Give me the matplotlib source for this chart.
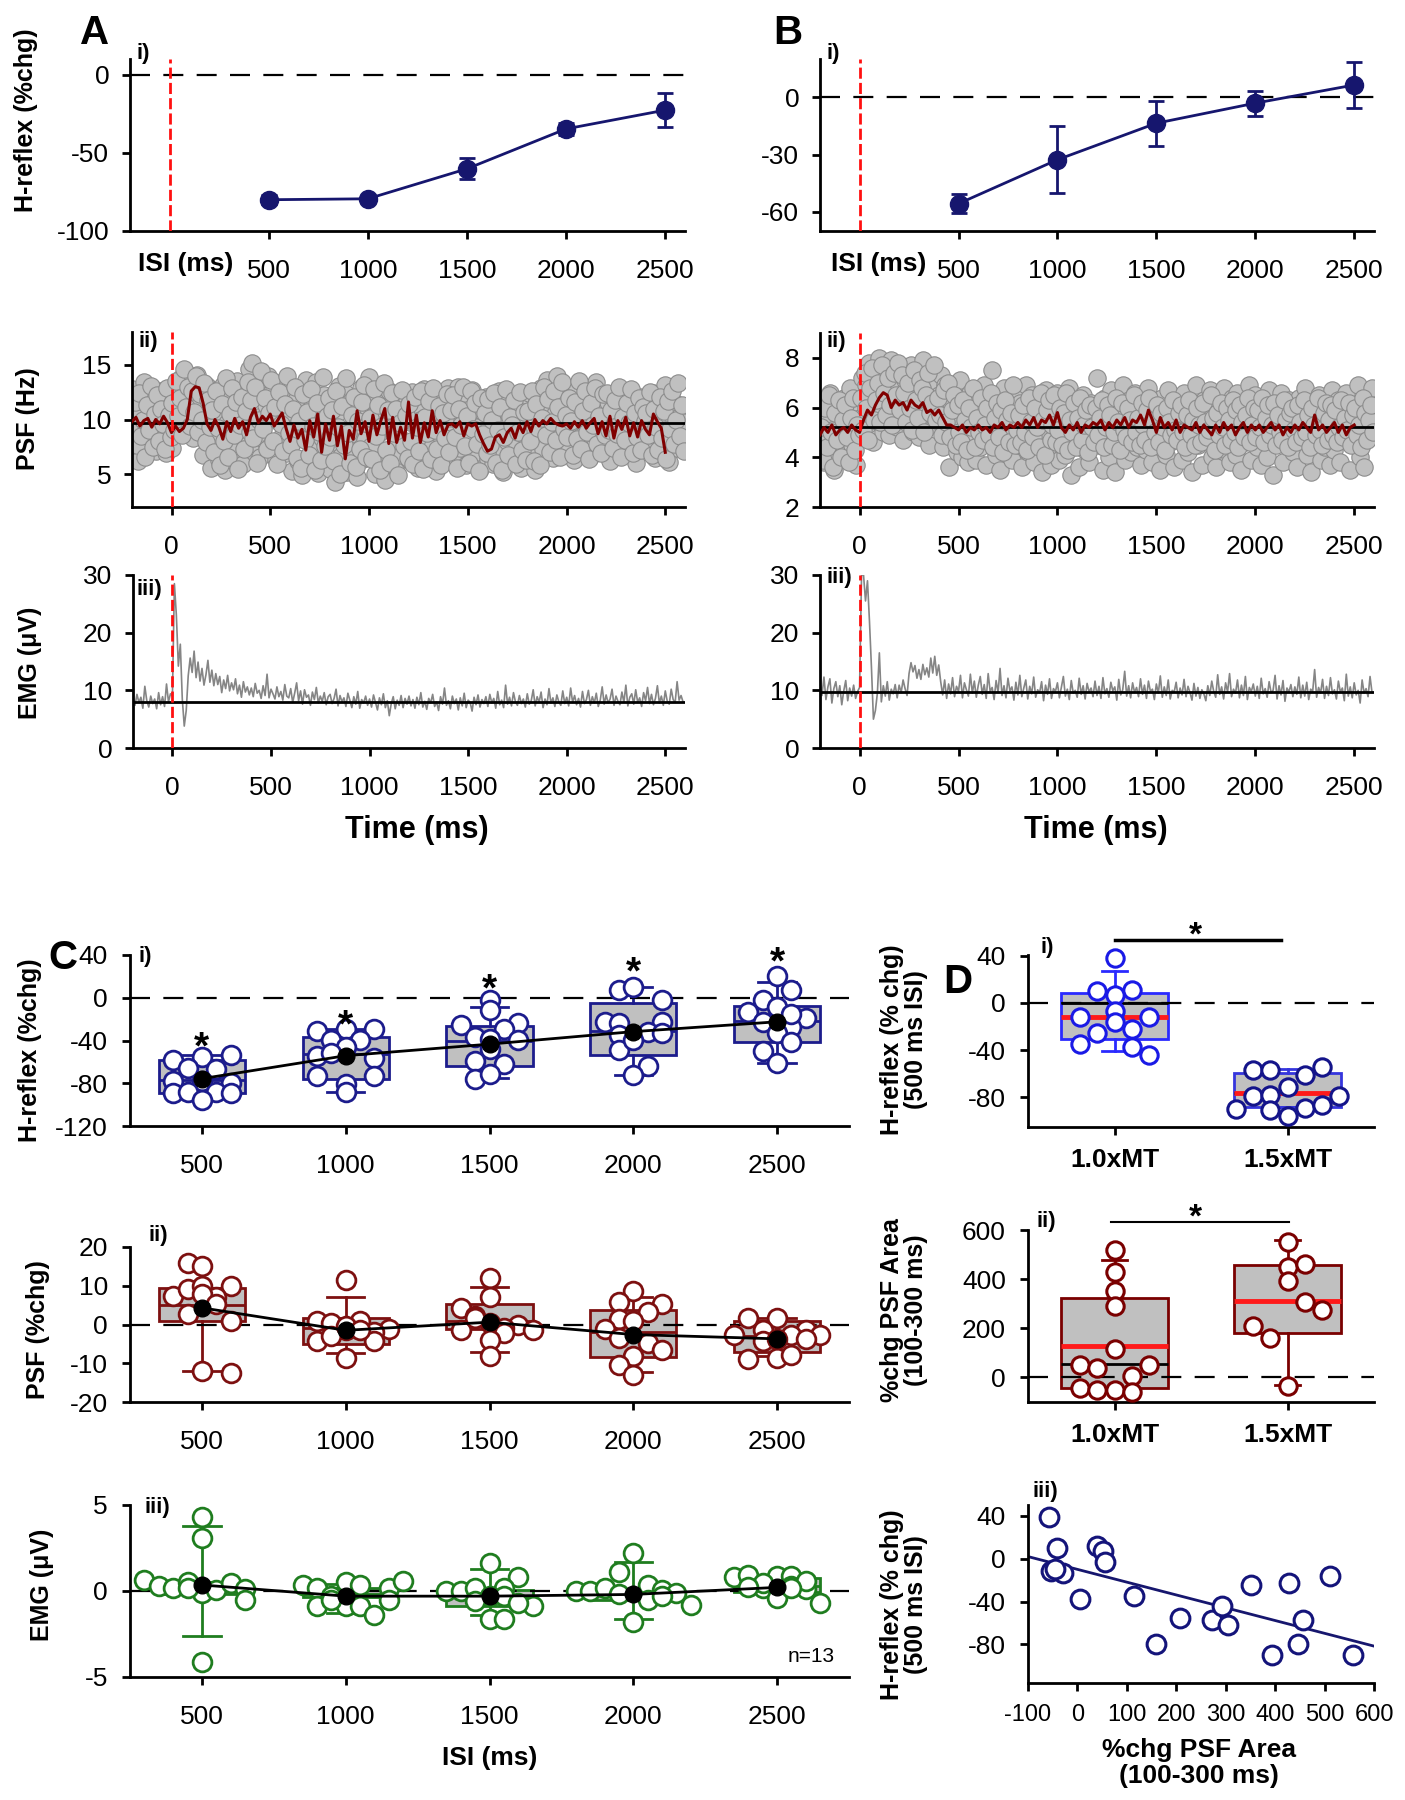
import numpy as np
import matplotlib.pyplot as plt
from matplotlib import font_manager

# ---------------- data ----------------
isi = [500, 1000, 1500, 2000, 2500]

# A i / B i : H-reflex (%chg) vs ISI, mean and error
hr_a_mean = [-80.0, -79.4, -60.2, -34.7, -22.7]
hr_a_err = [3.0, 2.0, 6.8, 4.0, 10.8]
hr_b_mean = [-55.7, -32.7, -13.6, -3.1, 6.4]
hr_b_err = [5.0, 17.4, 11.7, 6.5, 11.9]

# A ii : PSF dots (two interleaved 10 ms grids from -200 ms) and 20 ms trace
psf_a_dots1 = [
    12.8, 8.6, 10.9, 6.2, 11.7, 9.3, 13.4, 7.8, 10.2, 12.1, 8.9, 11.4, 7.1, 9.8, 12.6, 8.2, 10.7, 6.9, 11.9, 9.5,
    7.4, 10.8, 12.9, 8.7, 11.2, 13.8, 9.6, 14.3, 12.4, 10.1, 13.9, 8.3, 11.7, 14.1, 9.2, 12.8, 6.8, 10.4, 13.1, 9.9,
    5.6, 11.9, 8.4, 12.7, 6.3, 10.6, 13.2, 5.4, 9.7, 12.3, 7.2, 11.1, 6.1, 13.5, 8.8, 10.3, 5.9, 12.0, 7.7, 14.6,
    9.4, 15.2, 7.0, 12.5, 10.2, 6.6, 13.7, 8.1, 11.3, 14.0, 7.6, 10.9, 12.8, 6.4, 9.9, 13.3, 8.5, 11.6, 6.9, 10.7,
    12.9, 5.3, 9.1, 11.8, 6.2, 10.4, 4.9, 8.7, 13.6, 5.8, 9.6, 11.2, 7.4, 13.4, 5.1, 10.1, 8.3, 12.2, 6.0, 9.3,
    5.5, 11.4, 7.9, 4.3, 10.6, 13.1, 6.7, 9.0, 12.4, 5.2, 8.6, 11.7, 7.1, 10.2, 4.7, 9.5, 12.9, 6.4, 8.1, 11.0,
    13.9, 7.6, 10.3, 5.0, 12.2, 8.8, 6.1, 11.5, 4.5, 9.7, 12.6, 7.3, 10.8, 5.7, 9.1, 12.0, 6.8, 10.5, 8.0, 11.8,
    6.3, 9.8, 12.5, 7.0, 11.1, 5.6, 10.0, 8.4, 12.8, 6.6, 9.4, 11.9, 7.5, 10.7, 5.3, 9.2, 12.3, 8.1, 11.4, 6.9,
    12.9, 8.6, 10.2, 6.2, 11.6, 13.0, 7.4, 9.9, 12.4, 5.8, 10.6, 8.3, 12.7, 6.7, 11.0, 9.3, 5.5, 10.8, 7.9, 12.1,
    6.4, 10.4, 8.9, 5.9, 11.3, 7.2, 12.6, 9.6, 5.2, 10.9, 8.0, 11.7, 6.6, 9.3, 12.2, 7.6, 10.1, 5.6, 8.7, 11.5,
    9.0, 12.4, 6.9, 10.7, 5.4, 11.8, 8.2, 12.9, 7.3, 10.0, 13.6, 8.8, 11.2, 6.5, 10.5, 14.0, 9.4, 7.1, 12.1, 9.7,
    11.3, 7.8, 12.8, 9.1, 6.3, 13.1, 10.4, 8.4, 11.9, 7.0, 12.5, 9.6, 6.6, 10.9, 8.7, 13.4, 7.5, 11.0, 9.3, 12.2,
    8.1, 11.6, 6.2, 10.3, 12.0, 7.7, 9.8, 11.4, 6.8, 10.6, 12.3, 8.5, 7.2, 11.1, 9.4, 6.0, 10.8, 12.1, 7.9, 9.2,
    11.7, 7.3, 10.0, 8.8, 12.4, 6.5, 9.5, 11.2, 7.6, 10.4, 13.2, 8.2, 6.1, 10.9, 9.7, 11.5, 7.4, 10.2, 8.9, 9.8,
]
psf_a_dots2 = [
    9.1, 11.6, 7.7, 12.4, 8.5, 10.0, 6.6, 11.3, 9.0, 13.1, 7.5, 10.5, 12.2, 8.0, 11.0, 9.6, 7.3, 12.9, 10.4, 8.4,
    11.5, 9.0, 13.5, 10.3, 12.0, 8.6, 14.6, 11.1, 13.0, 9.4, 12.6, 10.7, 14.0, 8.9, 12.3, 10.0, 13.3, 7.9, 11.8, 9.3,
    10.9, 7.0, 12.6, 9.2, 5.8, 11.4, 8.0, 13.8, 6.6, 10.5, 12.9, 8.6, 11.6, 5.5, 9.5, 12.1, 7.3, 10.8, 13.4, 8.9,
    11.8, 8.3, 13.0, 6.0, 10.0, 14.4, 9.1, 12.0, 7.3, 10.6, 13.6, 8.0, 11.1, 5.9, 12.5, 9.6, 7.1, 11.4, 14.0, 8.8,
    7.7, 11.0, 13.0, 6.5, 9.9, 5.6, 12.3, 8.1, 10.7, 6.8, 12.8, 9.4, 5.4, 11.5, 8.9, 6.3, 13.9, 7.6, 10.3, 12.0,
    8.4, 10.9, 6.2, 12.6, 9.3, 5.0, 11.2, 7.7, 13.8, 8.8, 6.0, 10.4, 12.1, 5.7, 9.9, 7.3, 11.6, 13.2, 6.6, 9.6,
    10.1, 6.4, 12.8, 8.5, 11.3, 5.4, 9.4, 13.3, 7.2, 10.9, 6.0, 12.4, 8.8, 11.0, 4.9, 9.7, 12.7, 7.6, 10.4, 6.5,
    11.4, 8.0, 5.9, 12.1, 9.3, 7.1, 12.6, 5.5, 10.2, 8.8, 11.7, 6.4, 12.9, 9.0, 7.3, 11.2, 5.8, 10.6, 8.3, 12.3,
    7.0, 10.9, 12.2, 8.4, 5.6, 11.0, 9.5, 13.0, 7.6, 10.3, 6.0, 12.6, 9.1, 11.5, 7.8, 5.3, 12.0, 8.7, 10.6, 6.9,
    11.9, 7.7, 10.0, 12.4, 6.0, 9.0, 11.1, 5.4, 8.4, 12.8, 6.8, 10.2, 9.5, 11.8, 5.9, 8.9, 12.5, 7.2, 10.7, 6.3,
    10.8, 8.0, 12.6, 6.2, 11.4, 9.2, 5.8, 10.1, 13.0, 8.6, 11.9, 7.0, 9.8, 12.6, 8.1, 11.1, 6.6, 13.4, 9.1, 10.4,
    8.4, 12.0, 9.9, 6.8, 11.6, 8.2, 13.5, 7.3, 10.8, 12.6, 8.9, 6.4, 11.5, 9.5, 12.9, 7.8, 10.3, 6.9, 12.3, 8.6,
    12.4, 9.0, 10.9, 7.4, 11.8, 8.7, 13.0, 6.6, 10.2, 8.1, 11.5, 9.7, 12.8, 6.9, 10.6, 8.4, 12.0, 7.2, 11.1, 9.9,
    10.6, 8.6, 12.5, 6.8, 11.0, 9.3, 7.2, 12.1, 8.3, 10.8, 6.4, 11.7, 9.1, 12.6, 7.8, 10.0, 13.3, 8.5, 11.3, 7.1,
]
psf_a_trace = [
    9.8, 10.2, 9.4, 9.9, 10.1, 9.3, 10.0, 9.6, 10.3, 9.7,
    8.8, 9.4, 8.9, 9.2, 10.0, 12.6, 13.0, 12.9, 11.5, 9.6,
    9.0, 10.0, 9.3, 8.2, 9.8, 8.9, 10.1, 9.2, 9.8, 8.6,
    10.2, 11.0, 9.7, 10.3, 9.9, 10.5, 9.4, 10.0, 10.6, 9.2,
    8.0, 9.5, 8.3, 9.1, 7.2, 9.9, 8.4, 10.5, 7.0, 9.6,
    8.1, 10.3, 7.6, 9.4, 6.4, 9.0, 8.2, 10.8, 8.7, 9.8,
    8.0, 10.4, 8.6, 9.9, 11.0, 7.8, 10.2, 7.9, 9.3, 8.1,
    11.6, 8.3, 10.4, 7.9, 9.7, 8.4, 10.8, 8.8, 9.9, 8.6,
    9.5, 9.6, 9.3, 9.8, 8.5, 9.6, 9.4, 9.6, 8.6, 7.8,
    7.1, 7.3, 8.4, 8.6, 7.9, 8.8, 9.2, 8.3, 9.5, 8.8,
    9.8, 8.9, 10.0, 9.4, 9.9, 9.6, 10.1, 9.7, 9.5, 9.4,
    9.6, 9.2, 9.8, 9.3, 9.9, 9.2, 9.7, 10.1, 8.7, 9.8,
    8.5, 10.3, 8.3, 9.9, 9.1, 10.2, 8.5, 9.7, 8.4, 9.9,
    9.1, 8.6, 10.5, 9.8, 9.2, 7.0,
]
psf_a_base = 9.7

# A iii : EMG (10 ms grid from -200 ms)
emg_a = [
    8.6, 7.4, 9.3, 7.9, 8.8, 6.9, 10.7, 8.2, 7.1, 9.0, 7.7, 8.5, 6.8, 9.6, 7.5, 8.9, 7.2, 11.1, 8.0, 9.4,
    9.0, 28.5, 23.0, 14.2, 18.0, 8.5, 3.8, 6.5, 12.5, 15.6, 13.1, 16.8, 12.2, 14.9, 11.6, 13.8, 10.9, 12.7, 15.2, 11.4,
    13.5, 10.8, 12.9, 11.0, 12.4, 9.6, 11.8, 10.3, 12.6, 9.9, 11.3, 10.1, 12.0, 9.4, 10.9, 8.8, 11.5, 9.7, 10.6, 9.2,
    10.4, 8.9, 11.2, 9.5, 10.0, 8.6, 10.8, 9.1, 12.8, 8.7, 10.2, 9.4, 8.5, 10.6, 8.9, 9.8, 8.3, 11.0, 9.0, 8.7,
    10.3, 7.9, 9.5, 11.3, 8.2, 9.9, 7.6, 10.1, 8.8, 9.2, 7.4, 9.7, 8.4, 10.5, 7.8, 9.0, 8.1, 9.6, 7.5, 8.9,
    9.3, 7.7, 8.6, 10.2, 7.3, 9.1, 8.0, 8.7, 7.2, 9.5, 8.3, 7.0, 8.9, 7.6, 9.8, 6.9, 8.4, 7.8, 9.0, 7.4,
    8.5, 7.1, 9.2, 7.9, 6.6, 8.7, 7.5, 9.4, 7.0, 8.2, 5.6, 7.7, 8.9, 6.8, 8.3, 7.4, 9.1, 7.0, 8.6, 7.6,
    9.0, 7.3, 8.4, 6.9, 8.8, 7.5, 9.6, 7.1, 8.1, 6.7, 8.6, 7.8, 9.3, 7.2, 8.0, 6.5, 8.9, 7.6, 10.4, 7.4,
    8.2, 6.8, 9.0, 7.7, 8.5, 6.6, 8.7, 7.3, 9.5, 7.0, 8.3, 7.9, 6.4, 8.8, 7.5, 9.2, 7.1, 8.4, 7.7, 8.9,
    7.2, 9.3, 7.8, 8.6, 6.9, 9.8, 7.5, 8.3, 7.0, 10.9, 7.6, 8.8, 7.3, 9.6, 8.0, 7.4, 9.1, 7.7, 8.5, 7.1,
    9.4, 7.6, 8.2, 10.1, 7.3, 8.9, 7.9, 9.7, 7.0, 8.5, 7.5, 10.3, 7.8, 8.7, 7.2, 9.2, 8.0, 7.4, 9.9, 7.7,
    8.8, 7.3, 10.4, 7.9, 9.1, 7.5, 8.6, 7.1, 9.8, 7.7, 8.4, 10.0, 7.4, 8.9, 7.8, 9.5, 7.2, 8.3, 10.6, 7.6,
    9.2, 7.8, 8.5, 10.2, 7.4, 9.0, 8.1, 7.5, 9.7, 7.9, 10.9, 7.3, 8.8, 9.4, 7.6, 10.1, 7.9, 8.7, 7.2, 9.6,
    8.2, 10.5, 7.7, 9.3, 7.5, 8.6, 10.8, 7.8, 9.0, 7.4, 9.9, 8.1, 7.6, 10.2, 8.4, 7.9, 11.5, 8.3, 9.1, 8.0,
]
emg_a_base = 8.0

# B ii : PSF dots (two interleaved 10 ms grids) and trace
psf_b_dots1 = [
    4.6, 6.3, 3.8, 5.7, 4.2, 6.6, 5.1, 3.5, 6.0, 4.9, 5.8, 4.1, 6.4, 3.9, 5.4, 6.8, 4.5, 5.9, 3.7, 6.2,
    5.6, 7.2, 4.8, 6.9, 5.3, 7.8, 6.1, 4.6, 7.5, 5.9, 8.0, 6.4, 5.0, 7.3, 6.7, 4.9, 7.9, 5.8, 6.9, 5.2,
    7.6, 6.2, 4.7, 7.1, 5.5, 6.8, 7.7, 5.0, 6.4, 7.4, 4.8, 6.0, 7.9, 5.7, 6.6, 4.5, 7.2, 6.1, 5.3, 7.0,
    6.5, 7.3, 4.4, 6.9, 5.8, 3.6, 6.2, 5.1, 6.8, 4.2, 5.6, 7.1, 4.0, 6.4, 5.3, 3.8, 6.6, 4.7, 5.9, 3.9,
    6.3, 4.4, 5.5, 6.9, 3.7, 5.8, 4.6, 7.5, 5.2, 4.1, 6.5, 3.5, 5.7, 6.8, 4.3, 5.0, 6.1, 3.9, 5.4, 6.7,
    4.5, 6.2, 3.6, 5.6, 6.9, 4.2, 5.3, 6.5, 3.8, 5.9, 4.7, 6.4, 3.4, 5.1, 6.7, 4.4, 5.8, 3.7, 6.0, 4.9,
    6.6, 3.9, 5.5, 6.3, 4.1, 5.0, 6.8, 3.3, 5.7, 4.6, 6.1, 3.6, 5.2, 6.5, 4.3, 5.9, 3.8, 6.2, 4.8, 5.4,
    7.2, 4.5, 5.8, 3.5, 6.4, 5.1, 4.0, 6.7, 5.5, 3.4, 6.0, 4.7, 5.6, 6.9, 3.9, 5.3, 6.3, 4.2, 5.7, 6.6,
    4.4, 5.9, 3.7, 6.5, 5.0, 4.3, 6.8, 5.4, 3.8, 6.1, 4.9, 5.6, 3.5, 6.4, 5.2, 4.1, 6.7, 4.6, 5.8, 3.6,
    6.2, 4.8, 5.5, 3.9, 6.6, 5.1, 4.2, 6.0, 3.4, 5.7, 6.9, 4.5, 5.3, 3.7, 6.3, 4.9, 5.9, 6.7, 4.0, 5.2,
    3.6, 6.1, 4.7, 5.6, 6.8, 4.3, 5.0, 3.8, 6.4, 5.3, 4.1, 6.6, 5.8, 3.5, 6.0, 4.6, 5.4, 6.9, 3.9, 5.1,
    6.5, 4.4, 5.7, 3.7, 6.2, 5.0, 4.0, 6.7, 5.5, 3.3, 6.1, 4.8, 5.9, 6.6, 3.8, 5.2, 4.5, 6.3, 5.6, 4.2,
    5.8, 3.6, 6.4, 4.9, 5.3, 6.8, 4.1, 5.6, 3.4, 6.2, 4.6, 5.9, 6.5, 3.9, 5.1, 4.4, 6.0, 5.4, 3.7, 6.7,
    4.3, 5.7, 6.3, 3.8, 5.2, 4.7, 6.6, 5.0, 3.5, 6.1, 4.5, 5.8, 6.9, 4.0, 5.4, 3.6, 6.2, 4.8, 5.5, 6.8,
]
psf_b_dots2 = [
    5.2, 3.9, 6.0, 4.4, 6.5, 5.0, 3.6, 5.8, 4.7, 6.3, 4.0, 5.5, 6.1, 4.8, 3.8, 5.6, 6.4, 4.3, 5.3, 4.9,
    6.4, 5.1, 7.4, 6.0, 4.7, 6.8, 7.6, 5.5, 6.3, 7.0, 5.4, 7.7, 6.6, 5.7, 7.2, 6.1, 5.3, 7.4, 6.5, 7.8,
    5.9, 7.3, 6.6, 5.4, 7.0, 6.0, 5.1, 7.5, 6.3, 5.6, 7.1, 6.8, 5.0, 6.5, 7.4, 5.8, 6.2, 7.7, 5.5, 6.4,
    5.7, 4.9, 6.7, 5.4, 7.0, 4.8, 5.9, 6.5, 4.5, 6.1, 5.0, 4.6, 6.3, 5.5, 4.3, 6.0, 5.2, 6.8, 4.4, 5.6,
    5.0, 6.4, 4.7, 5.3, 6.0, 4.9, 6.6, 4.4, 5.6, 6.2, 4.8, 5.9, 4.2, 6.3, 5.5, 4.6, 5.8, 6.9, 4.5, 5.1,
    5.7, 4.6, 6.1, 5.0, 4.3, 6.4, 5.4, 4.8, 6.0, 5.2, 4.4, 6.6, 5.5, 4.1, 5.9, 6.3, 4.7, 5.3, 6.5, 4.6,
    5.1, 6.0, 4.5, 5.8, 6.6, 4.3, 5.5, 5.0, 6.2, 4.4, 5.6, 6.4, 4.7, 5.3, 5.9, 4.2, 6.1, 5.2, 4.6, 6.0,
    4.9, 5.6, 6.3, 4.4, 5.2, 6.1, 5.7, 4.5, 5.0, 6.4, 5.4, 4.3, 6.2, 5.1, 4.8, 6.0, 5.5, 4.6, 6.5, 5.0,
    5.6, 4.5, 6.2, 5.3, 4.7, 5.9, 6.4, 4.4, 5.5, 5.0, 6.1, 4.6, 5.8, 5.2, 4.3, 6.0, 5.4, 4.9, 6.3, 5.1,
    4.7, 5.8, 6.1, 5.0, 4.4, 5.7, 6.3, 4.9, 5.5, 4.5, 6.0, 5.3, 4.6, 6.2, 5.4, 4.8, 5.1, 6.5, 5.6, 4.3,
    5.8, 4.9, 6.2, 5.2, 4.5, 6.0, 5.5, 4.7, 6.3, 5.0, 5.9, 4.4, 6.1, 5.4, 4.8, 5.7, 6.4, 4.6, 5.3, 6.0,
    4.8, 5.9, 5.2, 6.4, 4.6, 5.6, 6.1, 4.9, 5.3, 6.2, 4.5, 5.7, 5.0, 4.7, 6.3, 5.5, 4.4, 5.8, 6.0, 5.1,
    4.6, 6.1, 5.4, 4.8, 6.3, 5.0, 5.7, 4.4, 6.0, 5.3, 4.9, 6.4, 5.1, 4.5, 5.8, 6.2, 4.7, 5.5, 6.1, 4.9,
    5.9, 4.6, 5.2, 6.3, 4.8, 5.6, 5.1, 6.2, 4.5, 5.7, 6.0, 4.9, 5.3, 4.4, 6.4, 5.8, 4.7, 5.5, 6.1, 5.0,
]
psf_b_trace = [
    4.9, 5.2, 5.0, 5.3, 4.9, 5.1, 5.2, 5.0, 5.3, 5.1,
    5.0, 5.5, 5.9, 5.7, 6.1, 6.4, 6.6, 6.5, 6.0, 6.3,
    6.1, 6.2, 5.9, 6.3, 6.1, 6.0, 6.2, 5.8, 5.9, 5.7,
    5.9, 5.6, 5.3, 5.3, 5.2, 5.1, 5.3, 5.0, 5.2, 5.1,
    5.3, 5.1, 5.2, 5.0, 5.3, 5.2, 5.4, 5.1, 5.3, 5.2,
    5.4, 5.2, 5.5, 5.3, 5.6, 5.2, 5.5, 5.4, 5.7, 5.3,
    5.8, 5.2, 5.0, 5.3, 5.1, 5.4, 5.0, 5.3, 5.2, 5.4,
    5.3, 5.5, 5.1, 5.4, 5.2, 5.5, 5.3, 5.6, 5.2, 5.5,
    5.4, 5.7, 5.3, 5.9, 5.5, 5.0, 5.6, 5.2, 5.4, 5.1,
    5.5, 5.0, 5.3, 5.2, 5.1, 5.4, 5.0, 5.3, 5.1, 4.9,
    5.3, 5.0, 5.4, 5.1, 5.3, 4.9, 5.2, 5.4, 5.0, 5.3,
    5.1, 5.3, 5.0, 5.2, 5.4, 5.1, 5.3, 4.9, 5.2, 5.0,
    5.3, 5.1, 5.4, 5.2, 5.0, 5.7, 5.1, 5.3, 5.0, 5.2,
    5.4, 5.0, 5.3, 4.9, 5.2, 5.3,
]
psf_b_base = 5.2

# B iii : EMG (10 ms grid from -200 ms)
emg_b = [
    11.2, 9.1, 12.3, 8.4, 10.6, 12.0, 7.8, 10.3, 11.5, 8.9, 10.8, 7.5, 9.9, 11.7, 8.2, 10.4, 9.0, 10.9, 8.6, 9.8,
    10.5, 30.0, 30.0, 25.5, 29.0, 22.0, 14.0, 5.0, 6.5, 9.5, 16.5, 8.0, 10.8, 9.0, 11.5, 8.3, 10.2, 9.4, 11.0, 8.7,
    10.9, 9.6, 11.8, 10.3, 9.1, 12.9, 14.8, 13.2, 14.3, 12.1, 13.6, 11.9, 14.5, 12.7, 13.9, 12.3, 15.6, 13.0, 15.9, 12.6,
    14.4, 11.5, 9.2, 11.8, 8.6, 11.1, 9.4, 12.2, 8.9, 10.7, 9.8, 12.6, 8.7, 11.3, 10.1, 9.0, 12.8, 9.5, 11.6, 8.8,
    10.9, 12.4, 9.3, 11.0, 8.6, 12.9, 9.8, 10.5, 8.4, 11.7, 9.6, 13.8, 9.1, 10.8, 8.7, 12.1, 9.9, 10.6, 8.3, 11.4,
    9.2, 12.6, 8.9, 10.4, 11.8, 8.5, 10.7, 9.4, 12.3, 8.8, 10.1, 9.6, 11.5, 8.2, 10.9, 9.3, 12.0, 8.6, 10.3, 9.8,
    11.3, 8.7, 10.6, 12.4, 9.0, 10.2, 8.4, 11.7, 9.5, 10.0, 8.8, 12.1, 9.3, 10.8, 8.5, 11.2, 9.7, 10.4, 8.9, 11.6,
    9.1, 10.7, 8.6, 12.2, 9.4, 10.3, 8.8, 11.4, 9.9, 10.6, 8.3, 11.9, 9.2, 10.1, 13.3, 9.0, 10.8, 8.7, 11.3, 9.6,
    10.5, 8.9, 12.0, 9.3, 10.9, 8.6, 11.6, 9.8, 10.2, 8.4, 11.1, 9.5, 12.5, 8.8, 10.6, 9.1, 11.8, 8.5, 10.0, 9.7,
    11.4, 8.7, 10.4, 9.2, 11.9, 8.9, 10.7, 9.6, 8.3, 11.2, 9.0, 10.5, 8.6, 10.1, 9.4, 8.2, 10.8, 9.1, 11.6, 9.8,
    8.8, 12.7, 9.3, 10.6, 8.5, 11.3, 9.7, 12.9, 8.9, 10.2, 9.5, 11.8, 8.7, 10.9, 9.1, 12.4, 8.4, 10.5, 9.8, 11.1,
    9.0, 10.7, 8.6, 12.1, 9.4, 10.3, 8.8, 11.5, 9.6, 10.0, 12.6, 8.5, 10.8, 9.2, 11.7, 8.1, 10.4, 9.7, 11.0, 8.9,
    10.6, 9.3, 12.3, 8.7, 10.9, 9.0, 11.4, 8.4, 10.2, 9.8, 13.6, 8.8, 10.5, 9.5, 11.9, 8.6, 10.7, 9.1, 12.2, 9.4,
    10.1, 8.5, 11.6, 9.7, 10.4, 8.2, 12.8, 9.0, 10.6, 8.7, 11.3, 9.2, 10.0, 7.8, 11.8, 9.5, 10.3, 8.9, 12.4, 9.6,
]
emg_b_base = 9.7

# C : group data, one list per ISI (13 subjects)
hr_c_pts = [
    [-57.8, -55.4, -53.8, -65.5, -67.0, -77.8, -77.8, -79.4, -89.0, -88.0, -88.0, -89.0, -95.4],
    [-30.8, -29.5, -29.5, -39.4, -39.4, -46.0, -54.8, -56.3, -52.0, -73.2, -73.2, -81.0, -88.6],
    [-2.5, -11.7, -25.5, -24.0, -29.5, -36.3, -38.8, -39.4, -48.0, -59.4, -61.8, -75.7, -71.7],
    [6.8, 9.8, -1.8, -22.5, -23.4, -22.5, -31.7, -34.8, -33.2, -48.6, -63.4, -72.6, -39.4],
    [20.6, 6.8, -2.5, -13.2, -8.6, -18.5, -22.5, -27.0, -33.2, -41.8, -50.0, -61.0, -15.0],
]
hr_c_mean = [-75.7, -54.2, -43.4, -31.7, -22.5]
hr_c_q1 = [-89.0, -76.3, -63.4, -54.0, -41.8]
hr_c_q3 = [-58.5, -36.3, -26.0, -4.6, -7.7]
hr_c_lo = [-95.0, -88.0, -75.0, -72.0, -61.0]
hr_c_hi = [-54.0, -29.0, -8.6, 9.8, 14.5]
hr_c_med = [-77.0, -53.0, -40.0, -31.0, -22.0]
hr_c_star = [-36.3, -15.4, 18.5, 34.5, 43.7]

psf_c_pts = [
    [15.9, 15.2, 7.4, 9.1, 10.0, 10.0, 7.0, 7.8, 2.6, 5.2, 0.9, -12.0, -12.6],
    [11.6, 0.9, 0.5, 0.8, -1.1, -1.5, -2.0, -4.3, -4.3, -3.0, -0.5, -8.7, -1.3],
    [11.9, 7.2, 4.3, 2.2, 0.5, 0.0, -1.5, -1.3, -0.8, -2.2, -3.9, -8.1, 1.8],
    [8.7, 5.8, 5.2, 3.2, 1.3, 0.9, -1.1, -3.5, -4.8, -6.7, -8.1, -10.4, -13.0],
    [1.7, 1.7, -1.3, -2.6, -2.6, -1.3, -2.6, -9.0, -8.7, -7.8, -4.3, -3.7, -3.7],
]
psf_c_mean = [4.3, -1.5, 0.6, -2.6, -3.7]
psf_c_q1 = [1.0, -5.0, -1.1, -8.3, -7.0]
psf_c_q3 = [9.3, 1.6, 5.2, 3.7, 0.9]
psf_c_lo = [-12.0, -7.4, -7.0, -12.2, -8.0]
psf_c_hi = [9.3, 7.2, 9.8, 7.2, 1.7]
psf_c_med = [5.0, -1.0, 1.0, -2.0, -3.0]

emg_c_pts = [
    [4.3, 3.1, 0.64, 0.3, 0.15, 0.55, -0.14, 0.06, 0.48, 0.1, -0.5, -4.1, 0.2],
    [0.35, 0.15, -0.3, 0.55, 0.35, 0.15, 0.6, -0.87, -0.9, -0.9, -1.4, -0.5, -0.5],
    [1.6, 0.8, 0.0, 0.0, 0.2, 0.2, -0.3, -0.6, -0.9, -0.3, -0.7, -1.6, -1.6],
    [2.2, 1.1, 0.0, 0.0, 0.15, 0.35, 0.06, -0.14, -0.17, -0.8, -0.5, -1.8, -0.3],
    [0.83, 0.93, 0.87, 0.87, 0.15, 0.1, -0.7, -0.43, 0.45, 0.3, 0.25, 0.6, 0.2],
]
emg_c_mean = [0.35, -0.3, -0.3, -0.2, 0.21]
emg_c_q1 = [-0.15, -0.35, -0.87, -0.5, -0.04]
emg_c_q3 = [0.55, 0.2, 0.06, 0.1, 0.74]
emg_c_lo = [-2.6, -1.3, -1.4, -1.65, -0.1]
emg_c_hi = [3.8, 0.4, 1.3, 1.7, 0.9]
emg_c_med = [0.3, -0.2, -0.3, -0.2, 0.3]

# D : intensity comparison
intensity = ['1.0xMT', '1.5xMT']
hr_d_pts = [
    [37.8, 9.8, 10.6, 7.0, -7.0, -12.0, -12.0, -16.0, -25.7, -22.4, -34.4, -37.2, -43.9],
    [-56.8, -56.8, -70.8, -61.0, -54.5, -79.0, -78.0, -78.9, -89.5, -90.3, -89.0, -86.0, -96.0],
]
hr_d_q1 = [-30.7, -88.0]
hr_d_q3 = [8.2, -59.0]
hr_d_lo = [-40.7, -88.0]
hr_d_hi = [27.0, -56.0]
hr_d_med = [0.0, -76.4]
hr_d_mean = [-11.9, -76.4]

area_d_pts = [
    [519, 430, 352, 290, 116, 52, 38, 52, 4, -41, -52, -52, -61],
    [552, 451, 461, 393, 307, 273, 208, 161, -34],
]
area_d_q1 = [-45, 182]
area_d_q3 = [325, 458]
area_d_lo = [-45, -31]
area_d_hi = [478, 560]
area_d_med = [55, 310]
area_d_mean = [126, 310]

corr_x = [-57.8, -40.9, -52.9, -29.6, -45.0, 4.8, 40.0, 52.7, 54.8, 113.9, 207.4, 158.2,
          272.0, 291.9, 303.8, 351.7, 394.0, 427.6, 446.6, 455.8, 510.0, 557.8]
corr_y = [38.4, 9.7, -11.6, -13.1, -10.0, -37.5, 11.9, 7.2, -3.1, -34.4, -55.3, -79.7,
          -57.5, -43.8, -61.6, -25.0, -89.7, -22.5, -79.4, -57.5, -16.3, -90.3]
fit_x = [-100, 600]
fit_y = [1.9, -81.6]

# ---------------- layout (jitter of the dots, in steps) ----------------
c_jit = [
    [[-2, 0, 2, -1, 1, -2, 0, 2, -2, -1, 1, 2, 0],
     [-2, 0, 2, -1, 1, 0, -2, 2, -1, -2, 2, 0, 0],
     [0, 0, -2, 2, 1, -1, 0, 2, 0, -1, 1, -1, 0],
     [-1, 0, 2, -2, -1, 2, 1, -1, 2, -1, 1, 0, 0],
     [0, 1, -1, -2, 0, 2, -1, 1, 0, 1, -1, 0, 1]],
    [[-1, 0, -2, -1, 0, 2, 1, 0, -1, 1, 2, 0, 2],
     [0, -2, -1, 1, 3, 0, 2, -2, 2, -1, 0, 0, 1],
     [0, 0, -2, -1, 0, 2, 3, -2, 1, 1, 0, 0, -1],
     [0, -1, 2, 1, -1, 0, -2, -1, 1, 2, 0, -1, 0],
     [-2, 0, 2, 3, -3, -1, 1, -2, 0, 1, -1, 2, 0]],
    [[0, 0, -4, -3, -2, -1, 0, 1, 2, 3, 3, 0, -1],
     [-3, -2, -1, 0, 1, 3, 4, -2, 0, 1, 2, -1, 3],
     [0, 2, -3, -2, -1, 1, 0, -1, 3, 1, 2, 0, 1],
     [0, -1, -4, -3, -2, 1, 2, 3, -1, 4, 1, 0, 2],
     [-3, -2, 0, 1, -1, 2, 3, 0, -1, 1, -2, 2, 1]],
]
hr_d_jit = [[0, -1, 1, 0, 0, -2, 2, 0, -1, 1, -2, 1, 2],
            [-2, -1, 0, 1, 2, -2, -1, 3, -3, -1, 1, 2, 0]]
area_d_jit = [[0, 0, 0, 0, 0, -2, -1, 2, 1, -2, -1, 0, 1],
              [0, 0, 1, 0, 1, 2, -2, -1, 0]]

# ---------------- styling ----------------
names = {f.name for f in font_manager.fontManager.ttflist}
NARROW = 'Liberation Sans Narrow' if 'Liberation Sans Narrow' in names else 'Liberation Sans'
plt.rcParams['font.family'] = [NARROW, 'DejaVu Sans']
plt.rcParams['axes.unicode_minus'] = False
LAB = dict(family=['Liberation Sans', 'DejaVu Sans'], fontweight='bold')

NAVY = '#16166e'
GREY = '#c0c0c0'
DRED = '#7d1010'
GREEN = '#1f7d1f'
W, H = 1405, 1800

fig = plt.figure(figsize=(W / 100, H / 100), dpi=100)


def px_axes(l, t, r, b):
    return fig.add_axes([l / W, 1 - b / H, (r - l) / W, (b - t) / H])


def ftext(x, y, s, **kw):
    fig.text(x / W, 1 - y / H, s, **kw)


def style(ax, xpad=14, ypad=9):
    ax.spines[['top', 'right']].set_visible(False)
    ax.spines[['left', 'bottom']].set_linewidth(2)
    ax.tick_params(length=6, width=2, labelsize=19)
    ax.tick_params(axis='x', pad=xpad)
    ax.tick_params(axis='y', pad=ypad)


def zero_line(ax, z=2.5):
    ax.axhline(0, color='k', lw=1.6, dashes=(9, 6), zorder=z)


def stim_line(ax):
    ax.axvline(0, color='#ff1010', lw=2, dashes=(4, 1.5), zorder=6)


t_trace = np.arange(-200, 2501, 20)
t_grid = np.arange(-200, 2600, 10)
DOT = dict(ls='none', marker='o', ms=12.5, mfc=GREY, mec='#8c8c8c', mew=0.8, zorder=2)

# ---- A i / B i ----
for (l, r), mean, err, ylim, yt in [((130, 685), hr_a_mean, hr_a_err, (-100, 10), [-100, -50, 0]),
                                   ((820, 1374), hr_b_mean, hr_b_err, (-70, 20), [-60, -30, 0])]:
    ax = px_axes(l, 59, r, 231)
    style(ax)
    zero_line(ax, 1)
    stim_line(ax)
    ax.errorbar(isi, mean, yerr=err, fmt='-o', color=NAVY, ms=13, lw=2, elinewidth=2,
                capsize=6, capthick=2, zorder=4)
    ax.set_xlim(-200, 2600)
    ax.set_ylim(*ylim)
    ax.set_xticks(isi)
    ax.set_yticks(yt)

# ---- A ii / B ii ----
ax = px_axes(132, 332, 685, 507)
style(ax)
ax.plot(t_grid, psf_a_dots1, **DOT)
ax.plot(t_grid + 5, psf_a_dots2, **DOT)
ax.axhline(psf_a_base, color='k', lw=2, zorder=3)
ax.plot(t_trace, psf_a_trace, color='#800000', lw=2.2, zorder=4)
stim_line(ax)
ax.set_xlim(-200, 2600)
ax.set_ylim(2, 18)
ax.set_xticks(range(0, 2501, 500))
ax.set_yticks([5, 10, 15])

ax = px_axes(820, 333, 1374, 507)
style(ax)
ax.plot(t_grid, psf_b_dots1, **DOT)
ax.plot(t_grid + 5, psf_b_dots2, **DOT)
ax.axhline(psf_b_base, color='k', lw=2, zorder=3)
ax.plot(t_trace, psf_b_trace, color='#800000', lw=2.2, zorder=4)
stim_line(ax)
ax.set_xlim(-200, 2600)
ax.set_ylim(2, 9)
ax.set_xticks(range(0, 2501, 500))
ax.set_yticks([2, 4, 6, 8])

# ---- A iii / B iii ----
for (l, r), emg, base in [((133, 685), emg_a, emg_a_base), ((820, 1374), emg_b, emg_b_base)]:
    ax = px_axes(l, 575, r, 748)
    style(ax)
    ax.plot(t_grid, emg, color='#858585', lw=1.2, zorder=2)
    ax.axhline(base, color='k', lw=2, zorder=3)
    stim_line(ax)
    ax.set_xlim(-200, 2600)
    ax.set_ylim(0, 30)
    ax.set_xticks(range(0, 2501, 500))
    ax.set_yticks([0, 10, 20, 30])


# ---- C ----
def boxes(ax, pos, q1, q3, lo, hi, med, width, edge, capw, medcol, mean=None):
    stats = []
    for i in range(len(pos)):
        d = dict(q1=q1[i], q3=q3[i], whislo=lo[i], whishi=hi[i], med=med[i], fliers=[])
        if mean is not None:
            d['mean'] = mean[i]
        stats.append(d)
    ax.bxp(stats, positions=pos, widths=width, patch_artist=True, showfliers=False,
           showmeans=mean is not None, meanline=True, capwidths=capw, manage_ticks=False,
           boxprops=dict(facecolor=GREY, edgecolor=edge, linewidth=2),
           whiskerprops=dict(color=edge, linewidth=2), capprops=dict(color=edge, linewidth=2),
           medianprops=dict(color=medcol, linewidth=2),
           meanprops=dict(color='#ff1a1a', linewidth=3.5, linestyle='-'), zorder=2)


c_rows = [
    (955, 1126, hr_c_pts, hr_c_mean, hr_c_q1, hr_c_q3, hr_c_lo, hr_c_hi, hr_c_med, '#1c1c8c', (-120, 40), range(-120, 41, 40)),
    (1247, 1402, psf_c_pts, psf_c_mean, psf_c_q1, psf_c_q3, psf_c_lo, psf_c_hi, psf_c_med, DRED, (-20, 20), range(-20, 21, 10)),
    (1505, 1677, emg_c_pts, emg_c_mean, emg_c_q1, emg_c_q3, emg_c_lo, emg_c_hi, emg_c_med, GREEN, (-5, 5), [-5, 0, 5]),
]
c_axes = []
for k, (t, b, pts, mean, q1, q3, lo, hi, med, col, ylim, yt) in enumerate(c_rows):
    ax = px_axes(130, t, 849, b)
    c_axes.append(ax)
    style(ax, xpad=14, ypad=10)
    boxes(ax, isi, q1, q3, lo, hi, med, 300, col, 130, col)
    zero_line(ax)
    for i, x in enumerate(isi):
        xs = [x + 50 * j for j in c_jit[k][i]]
        ax.plot(xs, pts[i], 'o', ms=13.5, mfc='white', mec=col, mew=2, ls='none', zorder=3)
    ax.plot(isi, mean, '-o', color='k', ms=12, lw=2, zorder=4)
    ax.set_xlim(250, 2750)
    ax.set_ylim(*ylim)
    ax.set_xticks(isi)
    ax.set_yticks(list(yt))

for x, y in zip(isi, hr_c_star):
    c_axes[0].annotate('*', (x, y), xytext=(0, -16), textcoords='offset points', ha='center',
                       va='baseline', fontsize=28, fontweight='bold', annotation_clip=False)
ftext(835, 1657, 'n=13', ha='right', va='center', fontsize=15)

# ---- D i / D ii ----
d_rows = [
    (955, 1127, hr_d_pts, hr_d_jit, hr_d_q1, hr_d_q3, hr_d_lo, hr_d_hi, hr_d_med, hr_d_mean,
     (-105, 40.5), [-80, -40, 0, 40], ['#2a2aff', '#3535dd'], ['#1a1ae6', '#14148a'], (53.5, 66)),
    (1230, 1402, area_d_pts, area_d_jit, area_d_q1, area_d_q3, area_d_lo, area_d_hi, area_d_med, area_d_mean,
     (-100, 600), [0, 200, 400, 600], ['#7a0000', '#7a0000'], ['#7a0000', '#7a0000'], (633, 694)),
]
for k, (t, b, pts, jit, q1, q3, lo, hi, med, mean, ylim, yt, ecols, pcols, sig) in enumerate(d_rows):
    ax = px_axes(1028, t, 1374, b)
    style(ax, xpad=9, ypad=10)
    for i in range(2):
        boxes(ax, [i + 1], [q1[i]], [q3[i]], [lo[i]], [hi[i]], [med[i]], 0.62, ecols[i], 0.15, 'k', [mean[i]])
    zero_line(ax, 2.5)
    for i in range(2):
        xs = [i + 1 + 0.1 * j for j in jit[i]]
        ax.plot(xs, pts[i], 'o', ms=12.5, mfc='white', mec=pcols[i], mew=2.2, ls='none',
                zorder=3, clip_on=False)
    ax.set_xlim(0.5, 2.5)
    ax.set_ylim(*ylim)
    ax.set_xticks([1, 2])
    ax.set_xticklabels(intensity, **LAB)
    ax.set_yticks(yt)
    ax.plot([1.0, 1.965] if k == 0 else [0.98, 2.01], [sig[0], sig[0]], color='k',
            lw=2.5 if k == 0 else 1.5, clip_on=False)
    ax.annotate('*', (1.47, sig[1]), xytext=(0, -14), textcoords='offset points', ha='center',
                va='baseline', fontsize=24, fontweight='bold', annotation_clip=False)

# ---- D iii ----
ax = px_axes(1028, 1505, 1374, 1683)
style(ax, xpad=9, ypad=10)
ax.plot(fit_x, fit_y, color=NAVY, lw=2, zorder=2)
ax.plot(corr_x, corr_y, 'o', ms=13.5, mfc='white', mec='#14147a', mew=2.2, ls='none', zorder=3)
ax.set_xlim(-100, 600)
ax.set_ylim(-116, 50)
ax.set_xticks(range(-100, 601, 100))
ax.set_yticks([-80, -40, 0, 40])
ax.tick_params(axis='x', labelsize=17)

# ---------------- labels ----------------
ftext(95, 33, 'A', ha='center', va='center', fontsize=29, **LAB)
ftext(788, 33, 'B', ha='center', va='center', fontsize=29, **LAB)
ftext(63, 958, 'C', ha='center', va='center', fontsize=29, **LAB)
ftext(958, 982, 'D', ha='center', va='center', fontsize=29, **LAB)

for x, y, s in [(136, 54, 'i)'), (138, 341, 'ii)'), (136, 589, 'iii)'),
                (827, 54, 'i)'), (826, 342, 'ii)'), (826, 578, 'iii)'),
                (138, 957, 'i)'), (149, 1236, 'ii)'), (144, 1508, 'iii)'),
                (1041, 948, 'i)'), (1036, 1222, 'ii)'), (1032, 1492, 'iii)')]:
    ftext(x, y, s, ha='left', va='center', fontsize=16, fontweight='bold')

for x, y, s in [(26, 120, 'H-reflex (%chg)'), (28, 419, 'PSF (Hz)'), (30, 663, 'EMG (μV)'),
                (30, 1050, 'H-reflex (%chg)'), (38, 1330, 'PSF (%chg)'), (42, 1585, 'EMG (μV)'),
                (904, 1040, 'H-reflex (% chg)\n(500 ms ISI)'),
                (904, 1310, '%chg PSF Area\n(100-300 ms)'),
                (904, 1605, 'H-reflex (% chg)\n(500 ms ISI)')]:
    ftext(x, y, s, ha='center', va='center', rotation=90, fontsize=18, linespacing=1.05, **LAB)

ftext(186, 264, 'ISI (ms)', ha='center', va='center', fontsize=19, fontweight='bold')
ftext(879, 264, 'ISI (ms)', ha='center', va='center', fontsize=19, fontweight='bold')
ftext(417, 830, 'Time (ms)', ha='center', va='center', fontsize=22, fontweight='bold')
ftext(1096, 830, 'Time (ms)', ha='center', va='center', fontsize=22, fontweight='bold')
ftext(490, 1758, 'ISI (ms)', ha='center', va='center', fontsize=19, fontweight='bold')
ftext(1199, 1763, '%chg PSF Area\n(100-300 ms)', ha='center', va='center', fontsize=19,
      linespacing=1.1, **LAB)

fig.savefig('out.png', dpi=100)
